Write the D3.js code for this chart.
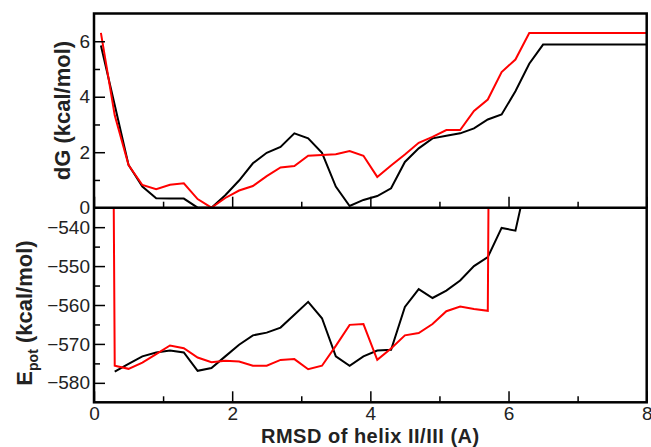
<!DOCTYPE html>
<html>
<head>
<meta charset="utf-8">
<script src="https://cdn.jsdelivr.net/npm/d3@7"></script>
<style>
  body { margin: 0; background: #fff; }
  svg { display: block; font-family: "Liberation Sans", Arial, Helvetica, sans-serif; }
</style>
</head>
<body>
<div id="chart"></div>
<script>
// RMSD grid (A)
const rmsd = [0.1, 0.3, 0.5, 0.7, 0.9, 1.1, 1.3, 1.5, 1.7, 1.9, 2.1, 2.3, 2.5, 2.7, 2.9, 3.1, 3.3,
  3.5, 3.7, 3.9, 4.1, 4.3, 4.5, 4.7, 4.9, 5.1, 5.3, 5.5, 5.7, 5.9, 6.1, 6.3, 6.5, 8.0];

// free energy (kcal/mol)
const dgBlack = [5.85, 3.7, 1.54, 0.76, 0.34, 0.33, 0.33, 0, 0, 0.45, 0.98, 1.6, 1.98, 2.19, 2.68, 2.5, 1.98,
  0.76, 0.06, 0.28, 0.42, 0.7, 1.65, 2.14, 2.5, 2.59, 2.68, 2.86, 3.18, 3.36, 4.2, 5.19, 5.88, 5.88];
const dgRed = [6.3, 3.33, 1.54, 0.82, 0.67, 0.83, 0.88, 0.31, 0, 0.35, 0.62, 0.78, 1.14, 1.45, 1.5, 1.87, 1.9,
  1.93, 2.04, 1.87, 1.11, 1.52, 1.92, 2.34, 2.55, 2.8, 2.8, 3.49, 3.9, 4.89, 5.34, 6.3, 6.3, 6.3];

// potential energy (kcal/mol), null = no value
const epotBlack = [null, -577.1, -575.1, -573.2, -572.2, -571.7, -572.2, -576.9, -576.2, -573.2, -570.2, -567.8,
  -567.1, -565.8, -562.5, -559.2, -563.4, -573.2, -575.6, -573.2, -571.7, -571.5, -560.5, -555.9, -558.2,
  -556.3, -553.7, -550.0, -547.7, -540.2, -540.9, -525, null, null];
const epotRed = [0, -575.6, -576.4, -574.8, -572.6, -570.4, -571.1, -573.5, -574.7, -574.3, -574.5, -575.6,
  -575.6, -574.1, -573.9, -576.5, -575.6, -570.5, -565.1, -564.9, -574.1, -571.2, -567.8, -567.2, -564.9,
  -561.6, -560.4, -561.0, -561.5, 0, null, null, null, null];

const xMajor = [0, 2, 4, 6, 8],
  xMinor = [1, 3, 5, 7];
const dgMajor = [0, 2, 4, 6],
  dgMinor = [1, 3, 5];
const epMajor = [-580, -570, -560, -550, -540],
  epMinor = [-575, -565, -555, -545];

const width = 651,
  height = 447;
const plotLeft = 94,
  plotRight = 646.7,
  plotTop = 13.5,
  plotMid = 207.7,
  plotBottom = 402.3;
const textColor = "#222";

const x = d3.scaleLinear().domain([0, 8]).range([plotLeft, plotRight]);
const yTop = d3.scaleLinear().domain([0, 7]).range([plotMid, plotTop]);
const yBot = d3.scaleLinear().domain([-585, -535]).range([plotBottom, plotMid]);

const svg = d3
  .select("#chart")
  .append("svg")
  .attr("width", width)
  .attr("height", height);

const defs = svg.append("defs");
defs.append("clipPath").attr("id", "clipTop")
  .append("rect").attr("x", plotLeft).attr("y", plotTop)
  .attr("width", plotRight - plotLeft).attr("height", plotMid - plotTop);
defs.append("clipPath").attr("id", "clipBot")
  .append("rect").attr("x", plotLeft).attr("y", plotMid)
  .attr("width", plotRight - plotLeft).attr("height", plotBottom - plotMid);

const rows = rmsd.map((r, i) => ({
  x: r,
  dgB: dgBlack[i],
  dgR: dgRed[i],
  epB: epotBlack[i],
  epR: epotRed[i],
}));

function drawLine(clip, yScale, key, color) {
  const line = d3
    .line()
    .defined((d) => d[key] !== null)
    .x((d) => x(d.x))
    .y((d) => yScale(d[key]));
  svg
    .append("path")
    .datum(rows)
    .attr("clip-path", `url(#${clip})`)
    .attr("fill", "none")
    .attr("stroke", color)
    .attr("stroke-width", 2)
    .attr("d", line);
}

drawLine("clipTop", yTop, "dgB", "#000");
drawLine("clipTop", yTop, "dgR", "#ff0000");
drawLine("clipBot", yBot, "epB", "#000");
drawLine("clipBot", yBot, "epR", "#ff0000");

// axes: inward ticks, labels only on left and bottom
function addAxis(axis, tx, ty, labels) {
  const g = svg.append("g").attr("transform", `translate(${tx},${ty})`).call(axis);
  g.select(".domain").remove();
  g.selectAll(".tick line").attr("stroke", "#000").attr("stroke-width", 1.5);
  g.selectAll(".tick text")
    .attr("fill", textColor)
    .style("font-size", "19px");
  if (!labels) g.selectAll(".tick text").remove();
  return g;
}

// top panel y
addAxis(d3.axisLeft(yTop).tickValues(dgMajor).tickSize(-11).tickPadding(4).tickFormat(d3.format("d")), plotLeft, 0, true);
addAxis(d3.axisLeft(yTop).tickValues(dgMinor).tickSize(-6), plotLeft, 0, false);
// bottom panel y
addAxis(d3.axisLeft(yBot).tickValues(epMajor).tickSize(-11).tickPadding(4).tickFormat(d3.format("d")), plotLeft, 0, true);
addAxis(d3.axisLeft(yBot).tickValues(epMinor).tickSize(-6), plotLeft, 0, false);
// x ticks on both panels
addAxis(d3.axisBottom(x).tickValues(xMajor).tickSize(-11), 0, plotMid, false);
addAxis(d3.axisBottom(x).tickValues(xMinor).tickSize(-6), 0, plotMid, false);
addAxis(d3.axisBottom(x).tickValues(xMajor).tickSize(-11).tickPadding(4).tickFormat(d3.format("d")), 0, plotBottom, true);
addAxis(d3.axisBottom(x).tickValues(xMinor).tickSize(-6), 0, plotBottom, false);

// frames
svg.append("rect")
  .attr("x", plotLeft).attr("y", plotTop)
  .attr("width", plotRight - plotLeft).attr("height", plotBottom - plotTop)
  .attr("fill", "none").attr("stroke", "#000").attr("stroke-width", 2.5);
svg.append("line")
  .attr("x1", plotLeft).attr("x2", plotRight)
  .attr("y1", plotMid).attr("y2", plotMid)
  .attr("stroke", "#000").attr("stroke-width", 2.5);

// axis titles
svg.append("text")
  .attr("transform", `translate(70,${(plotTop + plotMid) / 2}) rotate(-90)`)
  .attr("text-anchor", "middle")
  .attr("fill", textColor)
  .style("font-size", "22px")
  .style("font-weight", "bold")
  .text("dG (kcal/mol)");

const eLabel = svg.append("text")
  .attr("transform", `translate(32,${(plotMid + plotBottom) / 2 + 8}) rotate(-90)`)
  .attr("text-anchor", "middle")
  .attr("fill", textColor)
  .style("font-size", "22px")
  .style("font-weight", "bold");
eLabel.append("tspan").text("E");
eLabel.append("tspan").attr("dy", 6).style("font-size", "14px").text("pot");
eLabel.append("tspan").attr("dy", -6).text(" (kcal/mol)");

svg.append("text")
  .attr("x", (plotLeft + plotRight) / 2)
  .attr("y", 442.5)
  .attr("text-anchor", "middle")
  .attr("fill", textColor)
  .style("font-size", "20px")
  .style("letter-spacing", "0.5px")
  .style("font-weight", "bold")
  .text("RMSD of helix II/III (A)");
</script>
</body>
</html>
